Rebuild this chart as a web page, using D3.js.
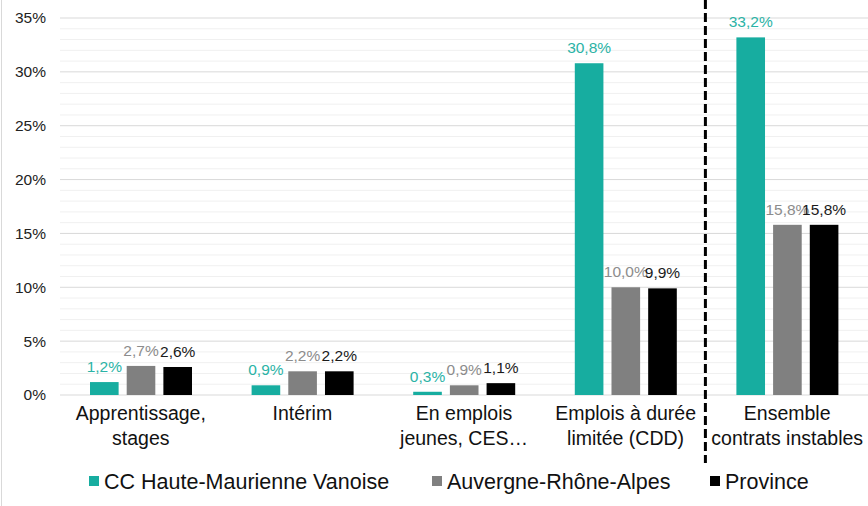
<!DOCTYPE html>
<html lang="fr">
<head>
<meta charset="UTF-8">
<title>Contrats instables</title>
<script src="https://d3js.org/d3.v7.min.js"></script>
<style>
  body { margin: 0; background: #fff; }
  text { font-family: "Liberation Sans", Arial, sans-serif; }
</style>
</head>
<body>
<svg width="868" height="506"></svg>
<script>
// categories (line-split labels)
const categories = [
  ["Apprentissage,", "stages"],
  ["Intérim"],
  ["En emplois", "jeunes, CES…"],
  ["Emplois à durée", "limitée (CDD)"],
  ["Ensemble", "contrats instables"]
];
const seriesNames = ["CC Haute-Maurienne Vanoise", "Auvergne-Rhône-Alpes", "Province"];
const hmv = [1.2, 0.9, 0.3, 30.8, 33.2];
const ara = [2.7, 2.2, 0.9, 10.0, 15.8];
const province = [2.6, 2.2, 1.1, 9.9, 15.8];
const yTicks = [0, 5, 10, 15, 20, 25, 30, 35];

const colors = ["#17ada0", "#808080", "#000000"];
const labelColors = ["#2bb3a6", "#8c8c8c", "#1a1a1a"];
const series = [hmv, ara, province];

const svg = d3.select("svg");
const margin = {top: 18, right: 0, bottom: 111, left: 60};
const width = 868 - margin.left - margin.right;
const height = 506 - margin.top - margin.bottom;

// frame
svg.append("rect").attr("x", 1.5).attr("y", -2).attr("width", 880).attr("height", 520)
  .attr("fill", "none").attr("stroke", "#d9d9d9");

const g = svg.append("g").attr("transform", `translate(${margin.left},${margin.top})`);

const x = d3.scaleBand().domain(d3.range(categories.length)).range([0, width]);
const x1 = d3.scaleBand().domain(d3.range(3)).range([30, 132]).paddingInner(0.22);
const y = d3.scaleLinear().domain([0, 35]).range([height, 0]);

// minor gridlines
g.selectAll(".minor").data(d3.range(0, 36).filter(v => v % 5 !== 0)).join("line")
  .attr("x1", 0).attr("x2", width)
  .attr("y1", d => y(d)).attr("y2", d => y(d))
  .attr("stroke", "#f0f0f0").attr("stroke-width", 1);

// major gridlines
g.selectAll(".major").data(yTicks).join("line")
  .attr("x1", 0).attr("x2", width)
  .attr("y1", d => y(d)).attr("y2", d => y(d))
  .attr("stroke", "#d9d9d9").attr("stroke-width", 1);

// y axis labels
const yAxis = g.append("g").call(d3.axisLeft(y).tickValues(yTicks).tickFormat(d => d + "%").tickSize(0).tickPadding(14));
yAxis.select(".domain").remove();
yAxis.selectAll("text").attr("font-size", 15.5).attr("fill", "#222")
  .attr("font-family", "Liberation Sans, Arial, sans-serif");

// bars
series.forEach((vals, s) => {
  g.selectAll(".bar" + s).data(vals).join("rect")
    .attr("x", (d, i) => x(i) + x1(s))
    .attr("y", d => y(d))
    .attr("width", x1.bandwidth())
    .attr("height", d => y(0) - y(d))
    .attr("fill", colors[s]);

  g.selectAll(".lab" + s).data(vals).join("text")
    .attr("x", (d, i) => x(i) + x1(s) + x1.bandwidth() / 2)
    .attr("y", d => y(d) - 10)
    .attr("text-anchor", "middle")
    .attr("font-size", 15.5)
    .attr("fill", labelColors[s])
    .text(d => d.toFixed(1).replace(".", ",") + "%");
});

// category labels
categories.forEach((lines, i) => {
  const t = g.append("text")
    .attr("x", x(i) + x.bandwidth() / 2)
    .attr("y", height + 25)
    .attr("text-anchor", "middle")
    .attr("font-size", 19.5)
    .attr("fill", "#111");
  lines.forEach((l, k) => {
    t.append("tspan").attr("x", x(i) + x.bandwidth() / 2).attr("dy", k === 0 ? 0 : 25).text(l);
  });
});

// dashed separator between the 4th and 5th group
const sepX = margin.left + x(4) - 1;
svg.append("line")
  .attr("x1", sepX).attr("x2", sepX)
  .attr("y1", 0).attr("y2", 463)
  .attr("stroke", "#000").attr("stroke-width", 3)
  .attr("stroke-dasharray", "9,4");

// legend
const legendX = [89, 432, 710];
const legend = svg.append("g");
seriesNames.forEach((n, s) => {
  legend.append("rect").attr("x", legendX[s]).attr("y", 476).attr("width", 10).attr("height", 10).attr("fill", colors[s]);
  legend.append("text").attr("x", legendX[s] + 15).attr("y", 489)
    .attr("font-size", 21.5).attr("fill", "#111").text(n);
});
</script>
</body>
</html>
